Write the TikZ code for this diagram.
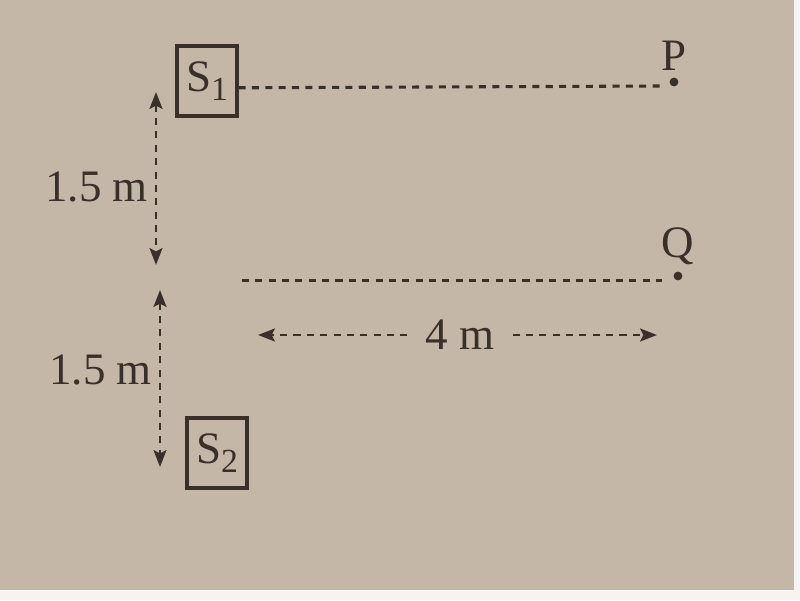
\documentclass[tikz,border=0pt]{standalone}
\usepackage{fontspec}
\setmainfont{Liberation Serif}
\usetikzlibrary{arrows.meta}
\definecolor{paper}{RGB}{197,183,168}
\definecolor{ink}{RGB}{58,48,42}
\newcommand\lowsub[1]{\raisebox{-0.4ex}{\fontsize{24}{26}\selectfont #1}}
\begin{document}
\begin{tikzpicture}[
  ink,
  font=\fontsize{32}{38}\selectfont,
  tip/.tip={Stealth[length=0.42cm,width=0.32cm,inset=0.08cm]},
  srcbox/.style={draw=ink, line width=2.2pt, minimum width=1.5cm, minimum height=1.75cm, inner sep=0pt},
  dotline/.style={line width=2.2pt, dash pattern=on 5pt off 4.5pt},
  dimline/.style={line width=2pt, dash pattern=on 5pt off 4.5pt, tip-tip},
  ptdot/.style={circle, fill=ink, inner sep=0pt, minimum size=0.22cm}
  ]
  %Paper
  \fill[paper] (0,0) rectangle (20,15);
  \fill[white!85!paper] (19.85,0) rectangle (20,15);
  \fill[white!85!paper] (0,0) rectangle (20,0.25);
  \useasboundingbox (0,0) rectangle (20,15);
  %Sources
  \node[srcbox] (S1) at (5.175,12.975) {S\lowsub{1}};
  \node[srcbox] (S2) at (5.425,3.675) {S\lowsub{2}};
  %Points
  \node[ptdot] (P) at (16.85,12.95) {};
  \node[ptdot] (Q) at (16.95,8.1) {};
  \node[above=0.05cm] (Plab) at (P.north) {P};
  \node[above=0.05cm] (Qlab) at (Q.north) {Q};
  \coordinate (Pend) at (16.55,12.85);
  \coordinate (Qstart) at (6.05,7.98);
  \coordinate (Qend) at (16.55,7.98);
  %Dotted lines to the points
  \draw[dotline] ([yshift=-0.17cm]S1.east) -- (Pend);
  \draw[dotline] (Qstart) -- (Qend);
  %Distances
  \coordinate (a1) at (3.9,12.7);
  \coordinate (b1) at (3.9,8.375);
  \coordinate (a2) at (4.0,7.75);
  \coordinate (b2) at (4.0,3.325);
  \draw[dimline] (a1) -- (b1) node[pos=0.55, left=0.05cm] (d1) {1.5 m};
  \draw[dimline] (a2) -- (b2) node[pos=0.45, left=0.05cm] (d2) {1.5 m};
  \node[inner xsep=0.45cm] (d3) at (11.5,6.625) {4 m};
  \coordinate (l3) at (6.45,6.625);
  \coordinate (r3) at (16.425,6.625);
  \draw[dimline, -tip] (d3) -- (l3);
  \draw[dimline, -tip] (d3) -- (r3);
\end{tikzpicture}
\end{document}
